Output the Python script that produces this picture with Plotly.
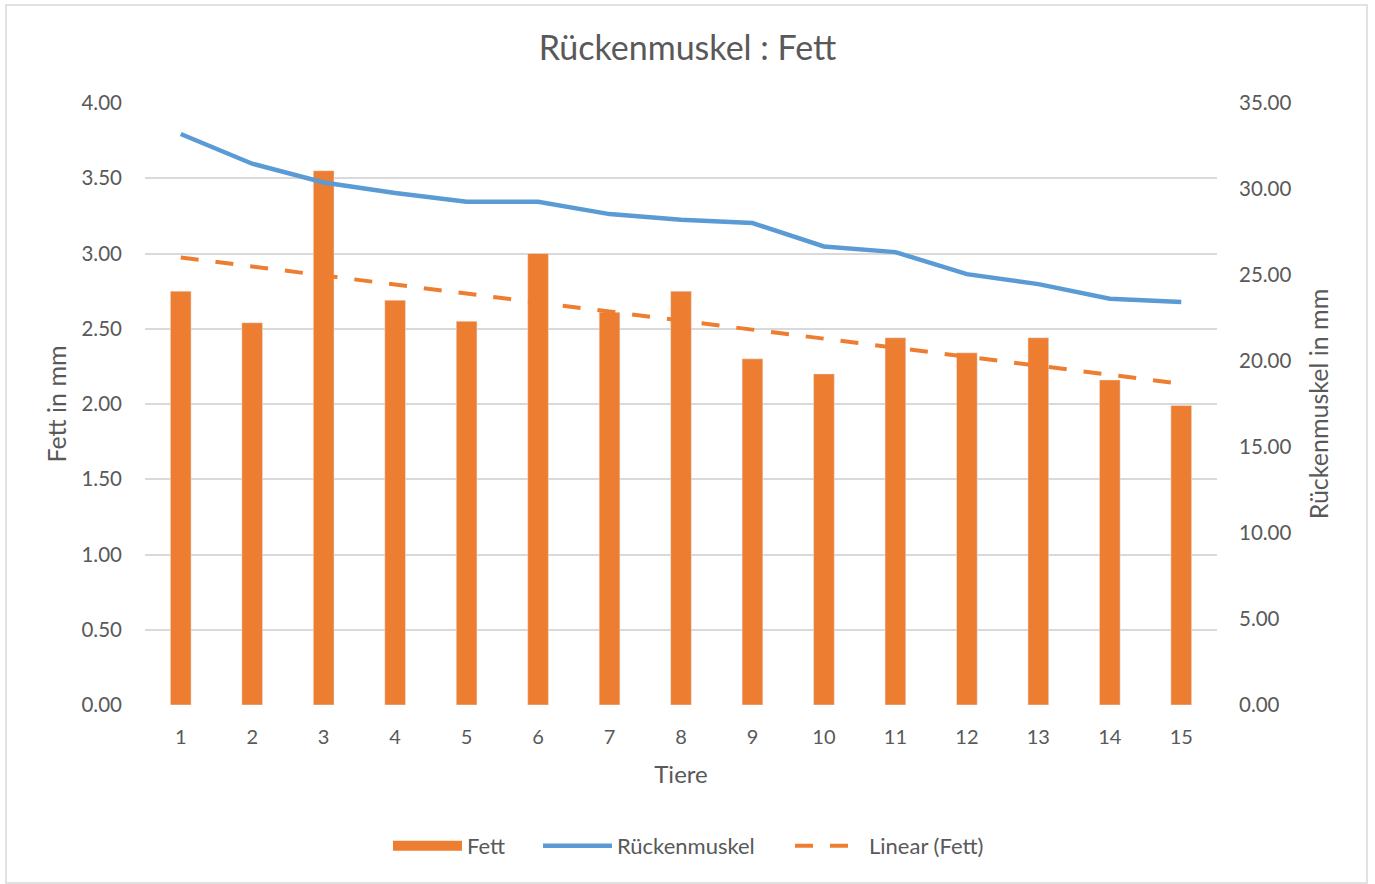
import numpy as np
import plotly.graph_objects as go

tiere = list(range(1, 16))
fett = [2.75, 2.54, 3.55, 2.69, 2.55, 3.00, 2.61, 2.75, 2.30, 2.20, 2.44, 2.34, 2.44, 2.16, 1.99]
ruecken = [33.2, 31.47, 30.38, 29.77, 29.26, 29.26, 28.54, 28.21, 28.02, 26.66, 26.33, 25.05, 24.47, 23.62, 23.43]
left_ticks = [0, 0.5, 1, 1.5, 2, 2.5, 3, 3.5, 4]
right_ticks = [0, 5, 10, 15, 20, 25, 30, 35]

ORANGE = "#ED7D31"
BLUE = "#5B9BD5"
TXT = "#595959"
GRID = "#D9D9D9"
FONT = "Lato"

slope, intercept = np.polyfit(tiere, fett, 1)
trend = [slope * x + intercept for x in tiere]

fig = go.Figure()
fig.add_trace(go.Bar(x=tiere, y=fett, name="Fett", marker_color=ORANGE, yaxis="y",
                     showlegend=False, legendgroup="fett"))
fig.add_trace(go.Scatter(x=[None], y=[None], name="Fett", mode="lines", legendgroup="fett",
                         line=dict(color=ORANGE, width=13), yaxis="y", legend="legend"))
fig.add_trace(go.Scatter(x=tiere, y=ruecken, name="Rückenmuskel", mode="lines",
                         line=dict(color=BLUE, width=4.5), yaxis="y2", legend="legend2"))
fig.add_trace(go.Scatter(x=tiere, y=trend, name="Linear (Fett)", mode="lines",
                         line=dict(color=ORANGE, width=4, dash="18px,17px"), yaxis="y",
                         legend="legend3"))

W_PLOT = 1072
LEG_Y = (705 - 846) / 602


def leg(x_px):
    return dict(orientation="h", x=(x_px - 5 - 145) / W_PLOT, xanchor="left", y=LEG_Y, yanchor="middle",
                font=dict(size=22, color=TXT, family=FONT), itemwidth=69, bgcolor="rgba(0,0,0,0)")


fig.update_layout(
    width=1375, height=884,
    margin=dict(l=145, r=158, t=103, b=179),
    paper_bgcolor="white", plot_bgcolor="white",
    font=dict(family=FONT, color=TXT, size=20),
    title=dict(text="Rückenmuskel : Fett", x=0.5, xanchor="center", y=1 - 48 / 884, yanchor="middle",
               font=dict(size=34, color=TXT, family=FONT)),
    bargap=0.71,
    showlegend=True,
    legend=leg(393),
    legend2=leg(543),
    legend3=leg(795),
    xaxis=dict(range=[0.5, 15.5], tickmode="array", tickvals=tiere, ticktext=[str(t) for t in tiere],
               showgrid=False, showline=False, zeroline=False, ticks="", ticklabelstandoff=18,
               tickfont=dict(size=20, color=TXT),
               title=dict(text="Tiere", font=dict(size=24, color=TXT), standoff=19)),
    yaxis=dict(range=[0, 4], tickvals=left_ticks, tickformat=".2f", showgrid=True,
               gridcolor=GRID, gridwidth=1.5, zeroline=False, ticks="",
               tickfont=dict(size=20.5, color=TXT), ticklabelstandoff=22,
               title=dict(text="Fett in mm", font=dict(size=25, color=TXT), standoff=7)),
    yaxis2=dict(range=[0, 35], tickvals=right_ticks, tickformat=".2f", overlaying="y", side="right",
                showgrid=False, zeroline=False, ticks="", tickfont=dict(size=20.5, color=TXT),
                ticklabelstandoff=21,
                title=dict(text="Rückenmuskel in mm", font=dict(size=25, color=TXT), standoff=19)),
    shapes=[dict(type="rect", xref="paper", yref="paper",
                 x0=(6 - 145) / W_PLOT, x1=(1367 - 145) / W_PLOT,
                 y0=(705 - 883) / 602, y1=(705 - 5) / 602,
                 line=dict(color=GRID, width=1.5), fillcolor="rgba(0,0,0,0)", layer="below")],
)

fig.write_html("out.html", config={"displayModeBar": False},
               post_script="document.body.style.margin='0';")
